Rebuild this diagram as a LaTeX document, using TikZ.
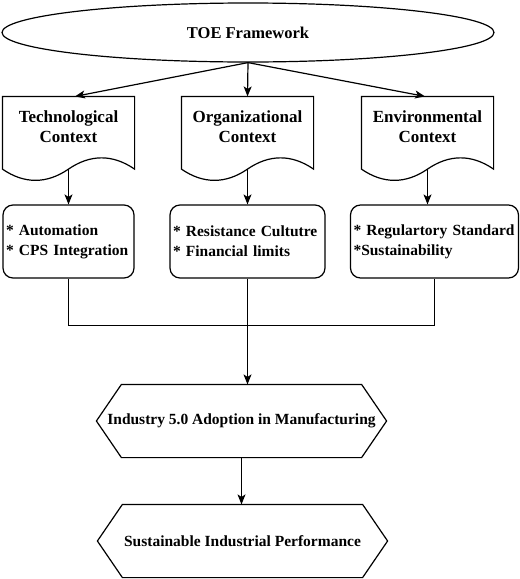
\documentclass[tikz,border=0pt]{standalone}
\usepackage{fontspec}
\setmainfont{Liberation Serif}
\usetikzlibrary{shapes.geometric,arrows.meta}
\newcommand{\docpath}[1]{%
  \draw (#1.north west) -- (#1.north east) -- ([yshift=12.5pt]#1.south east)
    .. controls ([xshift=-21.83pt,yshift=27.5pt]#1.south east) and ([xshift=21.83pt,yshift=27.5pt]#1.south) .. ([yshift=12.5pt]#1.south)
    .. controls ([xshift=-21.83pt,yshift=-2.5pt]#1.south) and ([xshift=21.83pt,yshift=-2.5pt]#1.south west) .. ([yshift=12.5pt]#1.south west)
    -- cycle;}
\newcommand{\hexpath}[1]{%
  \draw (#1.west) -- ([xshift=25pt]#1.north west) -- ([xshift=-25pt]#1.north east) -- (#1.east)
    -- ([xshift=-25pt]#1.south east) -- ([xshift=25pt]#1.south west) -- cycle;}
\begin{document}
\begin{tikzpicture}[x=1pt,y=1pt,line width=1.2pt,
  arr/.style={-{Stealth[length=10pt,width=8pt,inset=2.5pt]}},
  ellnode/.style={ellipse,draw,minimum width=492pt,minimum height=59pt,inner sep=0pt,font=\fontsize{16.5}{20}\selectfont\bfseries},
  docnode/.style={rectangle,draw=none,minimum width=131pt,minimum height=84pt,inner sep=0pt},
  doctext/.style={inner sep=0pt,align=center,font=\fontsize{17}{20}\selectfont\bfseries},
  itembox/.style={rectangle,draw,rounded corners=10pt,minimum height=73pt,inner xsep=3pt,inner ysep=0pt,align=left,font=\fontsize{15.5}{20}\selectfont\bfseries},
  hexnode/.style={rectangle,draw=none,minimum width=289pt,minimum height=72pt,inner sep=0pt,font=\fontsize{15.5}{20}\selectfont\bfseries}
]
\useasboundingbox (0,0) rectangle (520,-579);

\node[ellnode] (toe) at (248,-32.5) {TOE Framework};

\node[docnode] (tech) at (68.5,-139) {};
\node[docnode] (org) at (247.5,-139) {};
\node[docnode] (env) at (427.5,-139) {};
\docpath{tech}
\docpath{org}
\docpath{env}
\node[doctext] (techtxt) at (68.5,-127) {Technological\\Context};
\node[doctext] (orgtxt) at (247.5,-127) {Organizational\\Context};
\node[doctext] (envtxt) at (427.5,-127) {Environmental\\Context};

\node[itembox,text width=125pt] (techbox) at (68.5,-241.5) {* Automation\\{}* CPS Integration};
\node[itembox,text width=149pt] (orgbox) at (247.5,-241.5) {* Resistance Cultutre\\{}* Financial limits};
\node[itembox,text width=162pt] (envbox) at (434.5,-241.5) {* Regulartory Standard\\{}*Sustainability};

\node[hexnode] (adopt) at (241.5,-421) {Industry 5.0 Adoption in Manufacturing};
\node[hexnode] (perf) at (242.5,-541) {Sustainable Industrial Performance};
\hexpath{adopt}
\hexpath{perf}

\draw[arr] (toe.south) -- ([xshift=6.5pt]tech.north);
\draw[arr] (toe.south) -- (org.north);
\draw[arr] (toe.south) -- ([xshift=-2.5pt]env.north);

\draw[arr] ([yshift=12.5pt]tech.south) -- (techbox.north);
\draw[arr] ([yshift=12.5pt]org.south) -- (orgbox.north);
\draw[arr] ([yshift=12.5pt]env.south) -- (env.south |- envbox.north);

\coordinate (jr) at ([yshift=-47pt]envbox.south);
\draw (techbox.south) |- (jr) -- (envbox.south);
\draw[arr] (orgbox.south) -- (orgbox.south |- adopt.north);
\draw[arr] (adopt.south) -- (adopt.south |- perf.north);
\end{tikzpicture}
\end{document}
